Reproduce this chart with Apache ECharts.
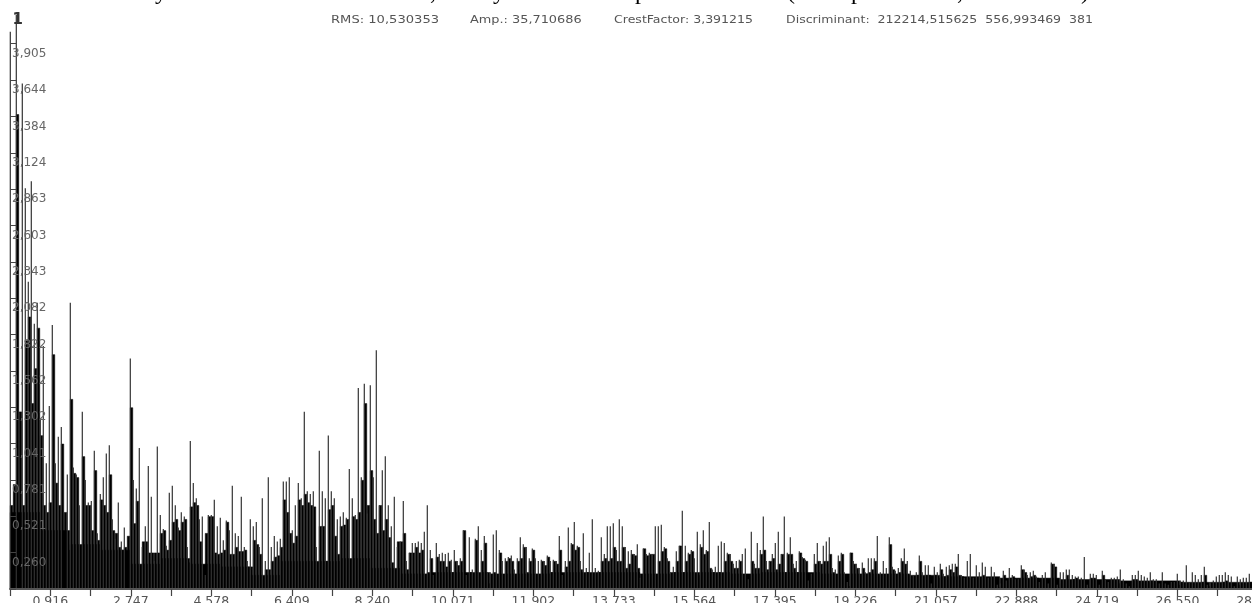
<!DOCTYPE html>
<html>
<head>
<meta charset="utf-8">
<style>
  html, body { margin: 0; padding: 0; background: #fff; overflow: hidden; }
  #chart { width: 1300px; height: 603px; }
</style>
<script src="https://cdn.jsdelivr.net/npm/echarts@6/dist/echarts.min.js"></script>
</head>
<body>
<div id="chart"></div>
<script>
// solid black base under the whole spectrum, one value per 10 slots
const floorValues = [
  .55,.42,.32,.28,.18,.22,.18,.16,.1,.2,.2,.22,.15,.11,
  .12,.12,.11,.11,.12,.12,.12,.11,.12,.12,.11,.12,.12,.11,
  .11,.11,.1,.09,.09,.08,.08,.07,.07,.06,.06,.05,.05,.05
]
// spectrum amplitudes, one slot per 0.0682 on the x axis
const massValues = [
  .6,.75,3.4,1.27,.6,1.78,1.95,1.33,1.58,1.87,
  1.1,.6,.55,.62,1.68,.76,.6,1.04,.55,.28,
  1.36,.83,.8,.19,.95,.6,.6,.42,.85,.35,
  .64,.6,.55,.82,.42,.4,.3,.28,.3,.38,
  1.3,.47,.63,.17,.34,.34,.26,.26,.26,.26,
  .4,.42,.28,.35,.48,.5,.42,.48,.5,.19,
  .59,.62,.6,.34,.04,.4,.52,.52,.26,.25,
  .26,.28,.48,.25,.25,.3,.27,.27,.28,.16,
  .16,.35,.32,.25,.04,.14,.14,.2,.23,.24,
  .3,.64,.55,.4,.33,.38,.64,.6,.68,.62,
  .6,.59,.15,.45,.45,.2,.57,.6,.38,.25,
  .45,.46,.5,.15,.52,.5,.55,.78,1.33,.6,
  .85,.5,.4,.6,.42,.5,.37,.19,.12,.34,
  .34,.4,.14,.26,.26,.3,.26,.28,.09,.12,
  .22,.08,.23,.2,.2,.16,.2,.12,.2,.17,
  .2,.42,.07,.12,.1,.35,.02,.2,.33,.04,
  .1,.12,.1,.26,.1,.2,.22,.2,.1,.2,
  .22,.3,.12,.2,.28,.1,.1,.2,.17,.23,
  .12,.2,.18,.28,.04,.16,.2,.32,.28,.3,
  .14,.1,.12,.02,.08,.07,.12,.2,.22,.2,
  .22,.3,.2,.2,.3,.15,.18,.25,.24,.15,
  .07,.29,.24,.25,.25,.07,.2,.27,.29,.2,
  .1,.12,.2,.31,.12,.2,.25,.27,.08,.1,
  .3,.25,.27,.15,.12,.1,.12,.1,.2,.25,
  .2,.15,.15,.2,.1,.1,.05,.2,.15,.15,
  .25,.28,.14,.2,.22,.14,.18,.25,.12,.25,
  .25,.15,.12,.26,.22,.2,.03,.1,.18,.2,
  .18,.2,.2,.25,.12,.1,.2,.25,.1,.02,
  .26,.18,.15,.1,.15,.11,.12,.14,.2,.1,
  .1,.04,.1,.32,.14,.02,.12,.2,.18,.1,
  .07,.07,.1,.2,.08,.1,.1,.02,.1,.08,
  .14,.09,.1,.14,.12,.16,.1,.09,.07,.08,
  .08,.05,.02,.08,.1,.06,.05,.08,.07,.01,
  .02,.1,.04,.08,.09,.02,.04,.14,.12,.07,
  .09,.1,.08,.03,.07,.07,.03,.18,.16,.01,
  .04,.06,.1,.05,.07,.08,.05,.05,.02,.01,
  .08,.08,.06,.01,.1,.05,.04,.05,.05,.04,
  .05,.03,.03,.01,.07,.07,.05,.01,.05,.05,
  .06,.03,.05,.03,.01,.02,.01,.03,.04,.03,
  .05,.04,.03,.04,.02,.03,.04,.05,.1,.02,
  .01,.01,.03,.04,.05,.06,.04,.03,.01,.03,
  .02,.04,.03,.05
]
const spikeValues = [
  3.99,0,4.11,0,3.62,2.87,2.2,2.92,1.9,2.05,
  1.22,1.74,.9,1.31,1.89,.9,1.09,1.16,0,.82,
  2.05,.87,.82,.6,1.27,.78,.62,.63,.99,.4,
  .68,.8,.97,1.03,.5,.36,.62,.34,.44,0,
  1.65,.78,.72,1.01,.3,.45,.88,.66,.2,1.02,
  .53,.43,.31,.69,.74,.6,.44,.55,.52,.3,
  1.06,.76,.65,.5,.52,.1,.53,.53,.64,.45,
  .51,.35,.49,.42,.74,.4,.38,.66,.3,.2,
  .5,.45,.48,.3,.65,.2,.8,.3,.38,.34,
  .36,.77,.77,.8,.42,.6,.76,.65,1.27,.7,
  .68,.7,.3,.99,.7,.65,1.1,.7,.65,.5,
  .52,.55,.51,.86,.65,.53,1.44,.8,1.47,.54,
  1.46,.8,1.71,.6,.85,.95,.6,.45,.66,.3,
  .34,.63,.2,.26,.33,.33,.34,.33,.41,.6,
  .28,.1,.33,.25,.26,.25,.26,.21,.28,.2,
  .22,.42,.1,.37,.14,.36,.45,.28,.38,.12,
  .12,.39,.42,.28,.2,.22,.23,.24,.14,.22,
  .37,.32,.3,.22,.29,.22,.2,.21,.2,.24,
  .2,.21,.2,.38,.1,.2,.44,.33,.48,.31,
  .2,.4,.15,.26,.5,.15,.13,.37,.25,.45,
  .45,.47,.28,.5,.45,.3,.27,.28,.25,.32,
  .08,.29,.25,.26,.25,.45,.45,.46,.3,.22,
  .12,.16,.27,.31,.56,.31,.26,.28,.22,.41,
  .32,.42,.28,.48,.14,.16,.31,.34,.33,.26,
  .25,.18,.2,.21,.25,.29,.07,.41,.18,.33,
  .28,.52,.2,.2,.25,.33,.41,.25,.52,.26,
  .37,.18,.2,.27,.23,.21,.06,.11,.25,.33,
  .2,.31,.34,.37,.15,.14,.24,.26,.12,.05,
  .26,.2,.18,.15,.19,.12,.22,.22,.22,.38,
  .12,.2,.15,.37,.16,.13,.15,.22,.29,.2,
  .13,.1,.12,.24,.12,.17,.17,.04,.16,.12,
  .18,.11,.16,.17,.18,.18,.25,.1,.08,.2,
  .25,.08,.17,.12,.19,.16,.08,.16,.12,.03,
  .04,.13,.06,.15,.1,.07,.07,.17,.14,.1,
  .12,.13,.09,.05,.1,.12,.04,.19,.18,.03,
  .12,.12,.14,.14,.1,.09,.09,.08,.23,.03,
  .11,.11,.1,.03,.13,.07,.05,.08,.08,.09,
  .14,.07,.04,.02,.1,.1,.13,.1,.09,.08,
  .12,.07,.07,.04,.12,.04,.03,.05,.05,.11,
  .06,.06,.17,.05,.12,.1,.07,.1,.16,.03,
  .04,.06,.09,.1,.1,.12,.1,.09,.02,.09,
  .07,.08,.08,.11
]

const xTickValues = [0, 0.916, 1.831, 2.747, 3.662, 4.578, 5.493, 6.409, 7.324, 8.240, 9.155, 10.071, 10.986, 11.902, 12.817, 13.733, 14.648, 15.564, 16.479, 17.395, 18.310, 19.226, 20.141, 21.057, 21.972, 22.888, 23.803, 24.719, 25.634, 26.550, 27.465, 28.381]
const xLabelValues = [0.916, 2.747, 4.578, 6.409, 8.240, 10.071, 11.902, 13.733, 15.564, 17.395, 19.226, 21.057, 22.888, 24.719, 26.550, 28.381]
const yTickValues = [0, 0.260, 0.521, 0.781, 1.041, 1.302, 1.562, 1.822, 2.082, 2.343, 2.603, 2.863, 3.124, 3.384, 3.644, 3.905]

const headerItems = [
  { text: 'RMS: 10,530353', left: 331, stretch: 1.19 },
  { text: 'Amp.: 35,710686', left: 470, stretch: 1.17 },
  { text: 'CrestFactor: 3,391215', left: 614, stretch: 1.14 },
  { text: 'Discriminant:  212214,515625  556,993469  381', left: 786, stretch: 1.14 },
]
// only the bottoms of the line above the chart are left in the picture
const cutOffGlyphs = [
  { text: 'y', left: 155 }, { text: ',', left: 430 }, { text: 'y', left: 493 },
  { text: 'p', left: 635 }, { text: '(', left: 787 }, { text: 'p', left: 851 },
  { text: ',', left: 957 }, { text: ')', left: 1081 },
]

const xMax = 28.381
const gridWidth = 1248
const sampleStep = 3 * xMax / gridWidth
const toPoints = (list, step, shift) => list.map((v, i) => [(i + shift) * step, v])
const commaLabel = (v) => v.toFixed(3).replace('.', ',')
// each series sits on its own x axis so the bars do not get grouped side by side
const hiddenX = { type: 'value', min: 0, max: xMax, show: false }

const myChart = echarts.init(document.getElementById('chart'), null, { renderer: 'canvas' })

myChart.setOption({
  animation: false,
  backgroundColor: '#fff',
  grid: { left: 10, top: 14, width: gridWidth, height: 575, outerBoundsMode: 'none' },
  xAxis: [
    {
      type: 'value',
      min: 0,
      max: xMax,
      z: 10,
      splitLine: { show: false },
      axisLine: { lineStyle: { color: '#555', width: 2 } },
      axisTick: { customValues: xTickValues, length: 7, lineStyle: { color: '#444', width: 1.2 } },
      axisLabel: {
        customValues: xLabelValues,
        formatter: commaLabel,
        margin: 6,
        color: '#555',
        fontFamily: 'DejaVu Sans',
        fontSize: 12.5,
        verticalAlign: 'top',
        hideOverlap: false,
        showMinLabel: true,
        showMaxLabel: true,
      },
    },
    hiddenX,
    hiddenX,
  ],
  yAxis: {
    type: 'value',
    min: 0,
    max: 4.118,
    z: 10,
    splitLine: { show: false },
    axisLine: { show: false },
    axisTick: { show: true, customValues: yTickValues, inside: true, length: 6, lineStyle: { color: '#444', width: 1 } },
    axisLabel: {
      customValues: yTickValues.slice(1),
      formatter: commaLabel,
      inside: true,
      margin: 2,
      color: '#666',
      fontFamily: 'DejaVu Sans',
      fontSize: 12,
      align: 'left',
      verticalAlign: 'top',
      padding: [4, 0, 0, 0],
    },
  },
  series: [
    {
      name: 'floor',
      type: 'bar',
      xAxisIndex: 0,
      barWidth: 30,
      itemStyle: { color: '#000', borderColor: '#000', borderWidth: 0.5 },
      data: toPoints(floorValues, sampleStep * 10, 0.5),
    },
    {
      name: 'mass',
      type: 'bar',
      xAxisIndex: 1,
      barWidth: 3,
      itemStyle: { color: '#000', borderColor: '#000', borderWidth: 0.5 },
      data: toPoints(massValues, sampleStep, 0.5),
    },
    {
      name: 'spike',
      type: 'bar',
      xAxisIndex: 2,
      barWidth: 1.2,
      itemStyle: { color: '#333' },
      data: toPoints(spikeValues, sampleStep, 0.1),
    },
  ],
  graphic: [
    ...headerItems.map((h) => ({
      type: 'text',
      x: h.left,
      y: 15,
      scaleX: h.stretch,
      style: { text: h.text, fill: '#555', font: '11px "DejaVu Sans"' },
    })),
    ...cutOffGlyphs.map((g) => ({
      type: 'text',
      x: g.left,
      y: -19,
      style: { text: g.text, fill: '#000', font: '24px "Liberation Serif"' },
    })),
    {
      type: 'text',
      x: 12.5,
      y: 13,
      style: { text: '1', fill: '#333', font: 'bold 15px "DejaVu Sans"' },
    },
  ],
})
</script>
</body>
</html>
